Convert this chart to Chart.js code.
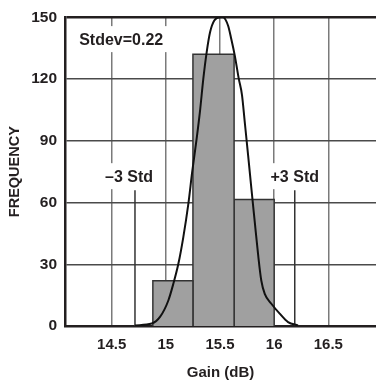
<!DOCTYPE html>
<html>
<head>
<meta charset="utf-8">
<script src="https://cdn.jsdelivr.net/npm/chart.js@4.4.0/dist/chart.umd.min.js"></script>
<style>
  html, body { margin: 0; padding: 0; background: #fff; }
  #wrap { width: 376px; height: 383px; }
</style>
</head>
<body>
<div id="wrap"><canvas id="histChart" width="376" height="383"></canvas></div>
<script>
// histogram bins (dB) and counts
const binStart = [14.88, 15.25, 15.63];
const binEnd = [15.25, 15.63, 16.0];
const binCount = [22, 132, 61.5];

// fitted normal curve
const curveX = [14.715, 14.87, 14.946, 15.023, 15.069, 15.115, 15.161, 15.207, 15.244, 15.285, 15.315, 15.346, 15.377,
  15.408, 15.447, 15.5, 15.528, 15.574, 15.604, 15.636, 15.673, 15.703, 15.728, 15.759, 15.789, 15.82, 15.851,
  15.881, 15.913, 15.974, 16.051, 16.128, 16.22];
const curveY = [0.3, 1.2, 4.4, 12.4, 20.5, 30.1, 43.1, 59.1, 75.2, 91.3, 104.3, 120.2, 133.1,
  142.7, 148.4, 150, 150, 146, 139.5, 131.5, 120.2, 112.2, 99.3, 83.2, 67.1, 51, 35,
  22.1, 15.6, 10.8, 6, 1.9, 0.3];

// +/- 3 sigma markers
const stdX = [14.715, 16.19];
const stdTop = 66;

const xTicks = [14.5, 15, 15.5, 16, 16.5];
const yTicks = [0, 30, 60, 90, 120, 150];

const notes = [
  { text: 'Stdev=0.22', x: 14.2, y: 139.4, align: 'left' },
  { text: '\u20133 Std', x: 14.66, y: 72.8, align: 'center' },
  { text: '+3 Std', x: 16.19, y: 72.8, align: 'center' }
];

const FONT = "'Liberation Sans', Arial, sans-serif";
const INK = '#231f20';

// curve first so it is drawn on top
const datasets = [{
  data: curveX.map((x, i) => ({ x: x, y: curveY[i] })),
  borderColor: '#111',
  borderWidth: 2,
  pointRadius: 0,
  fill: false,
  cubicInterpolationMode: 'monotone'
}];
stdX.forEach(v => {
  datasets.push({
    data: [{ x: v, y: 0 }, { x: v, y: stdTop }],
    borderColor: '#333',
    borderWidth: 1.5,
    pointRadius: 0,
    fill: false
  });
});
binCount.forEach((h, i) => {
  datasets.push({
    data: [
      { x: binStart[i], y: 0 }, { x: binStart[i], y: h },
      { x: binEnd[i], y: h }, { x: binEnd[i], y: 0 }
    ],
    borderColor: '#333',
    borderWidth: 1.5,
    backgroundColor: '#a0a0a0',
    fill: 'origin',
    pointRadius: 0,
    tension: 0
  });
});

// text labels with white boxes that break the grid
const notePlugin = {
  id: 'notes',
  beforeDatasetsDraw(chart) {
    const ctx = chart.ctx;
    const xs = chart.scales.x, ys = chart.scales.y;
    ctx.save();
    ctx.font = 'bold 16px ' + FONT;
    ctx.textBaseline = 'middle';
    notes.forEach(n => {
      const px = xs.getPixelForValue(n.x);
      const py = ys.getPixelForValue(n.y);
      const w = ctx.measureText(n.text).width;
      const left = n.align === 'left' ? px : px - w / 2;
      ctx.fillStyle = '#fff';
      ctx.fillRect(left - 4, py - 13, w + 8, 26);
      ctx.fillStyle = INK;
      ctx.textAlign = 'left';
      ctx.fillText(n.text, left, py + 1);
    });
    ctx.restore();
  }
};

new Chart(document.getElementById('histChart').getContext('2d'), {
  type: 'line',
  data: { datasets: datasets },
  plugins: [notePlugin],
  options: {
    responsive: false,
    animation: false,
    layout: { padding: { top: 12, right: 0, left: 0, bottom: 0 } },
    plugins: { legend: { display: false }, tooltip: { enabled: false } },
    scales: {
      x: {
        type: 'linear',
        min: 14.069,
        max: 16.94,
        afterBuildTicks: s => { s.ticks = xTicks.map(v => ({ value: v })); },
        afterFit: s => { s.height = 57; },
        grid: { color: '#7a7a7a', lineWidth: 1.5, drawTicks: false },
        border: { color: INK, width: 2.5 },
        ticks: {
          padding: 10,
          color: INK,
          font: { family: FONT, size: 15, weight: 'bold' },
          callback: v => String(v)
        },
        title: {
          display: true,
          text: 'Gain (dB)',
          color: INK,
          font: { family: FONT, size: 15, weight: 'bold' },
          padding: { top: 0, bottom: 1 }
        }
      },
      y: {
        min: 0,
        max: 150,
        afterBuildTicks: s => { s.ticks = yTicks.map(v => ({ value: v })); },
        afterFit: s => { s.width = 65; },
        grid: {
          color: c => c.tick && c.tick.value === 150 ? INK : '#4a4a4a',
          lineWidth: c => c.tick && c.tick.value === 150 ? 2.5 : 1.5,
          drawTicks: false
        },
        border: { color: INK, width: 2.5 },
        ticks: {
          padding: 8,
          color: INK,
          font: { family: FONT, size: 15.5, weight: 'bold' }
        },
        title: {
          display: true,
          text: 'FREQUENCY',
          color: INK,
          font: { family: FONT, size: 14.5, weight: 'bold' },
          padding: { top: 6, bottom: 0 }
        }
      }
    }
  }
});
</script>
</body>
</html>
